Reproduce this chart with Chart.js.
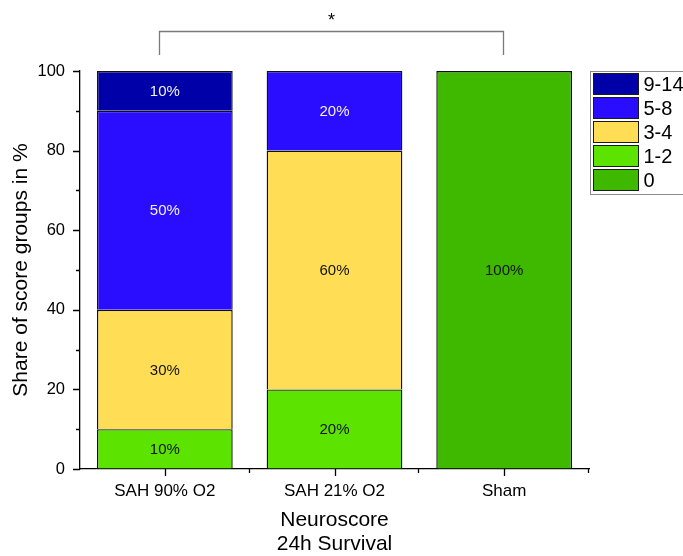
<!DOCTYPE html>
<html>
<head>
<meta charset="utf-8">
<title>Neuroscore 24h Survival</title>
<script src="https://cdn.jsdelivr.net/npm/chart.js@4.4.1/dist/chart.umd.min.js"></script>
<style>
  html, body { margin: 0; padding: 0; background: #fff; }
  #wrap { width: 683px; height: 556px; }
</style>
</head>
<body>
<div id="wrap"><canvas id="scoreChart" width="683" height="556"></canvas></div>
<script>
// Kategorien und Anteile der Score-Gruppen (in %), gestapelt von unten nach oben
const categories = ['SAH 90% O2', 'SAH 21% O2', 'Sham'];
const groupLabels = ['0', '1-2', '3-4', '5-8', '9-14'];
const share0 = [0, 0, 100];
const share1to2 = [10, 20, 0];
const share3to4 = [30, 60, 0];
const share5to8 = [50, 20, 0];
const share9to14 = [10, 0, 0];
const groupColors = ['#3fb900', '#5ce300', '#ffde55', '#2a0cff', '#0000a8'];
const labelColors = ['#111', '#111', '#111', '#f2f2f2', '#f2f2f2'];
const yTickValues = [0, 20, 40, 60, 80, 100];

const FONT = "'Liberation Sans', Arial, sans-serif";

const seriesList = [share0, share1to2, share3to4, share5to8, share9to14];
const datasets = seriesList.map((vals, i) => ({
    label: groupLabels[i],
    data: vals.map(v => v === 0 ? null : v),
    backgroundColor: groupColors[i],
    borderColor: '#111',
    borderWidth: 1.4,
    borderSkipped: 'bottom',   // Trennlinie kommt vom darunterliegenden Segment
    categoryPercentage: 0.8,
    barPercentage: 1.0
}));

// Achsenstriche (Haupt- und Nebenstriche) selbst zeichnen
const axisTicks = {
    id: 'axisTicks',
    afterDraw(chart) {
        const {ctx, chartArea, scales: {x, y}} = chart;
        ctx.save();
        ctx.strokeStyle = '#000';
        ctx.lineWidth = 1.3;
        ctx.beginPath();
        for (let v = 0; v <= 100; v += 10) {
            const py = Math.round(y.getPixelForValue(v)) + 0.5;
            const len = v % 20 === 0 ? 7 : 4;
            ctx.moveTo(chartArea.left - len, py);
            ctx.lineTo(chartArea.left, py);
        }
        categories.forEach((c, i) => {
            const px = Math.round(x.getPixelForValue(i)) + 0.5;
            ctx.moveTo(px, chartArea.bottom);
            ctx.lineTo(px, chartArea.bottom + 7);
            const edge = i < categories.length - 1
                ? (x.getPixelForValue(i) + x.getPixelForValue(i + 1)) / 2
                : chartArea.right;
            const ex = Math.round(edge) - 0.5;
            ctx.moveTo(ex, chartArea.bottom);
            ctx.lineTo(ex, chartArea.bottom + 4);
        });
        ctx.stroke();
        ctx.restore();
    }
};

// Prozentwerte mittig in die Segmente schreiben
const segmentLabels = {
    id: 'segmentLabels',
    afterDatasetsDraw(chart) {
        const {ctx} = chart;
        ctx.save();
        ctx.font = '15px ' + FONT;
        ctx.textAlign = 'center';
        ctx.textBaseline = 'middle';
        chart.data.datasets.forEach((ds, di) => {
            const meta = chart.getDatasetMeta(di);
            meta.data.forEach((bar, i) => {
                const v = ds.data[i];
                if (!v) return;
                ctx.fillStyle = labelColors[di];
                ctx.fillText(v + '%', bar.x, (bar.y + bar.base) / 2 + 1);
            });
        });
        ctx.restore();
    }
};

// Legende rechts neben der Achse (oberste Gruppe zuerst)
const sideLegend = {
    id: 'sideLegend',
    afterDraw(chart) {
        const {ctx, chartArea} = chart;
        const left = chartArea.right + 1.5;
        const top = chartArea.top + 0.5;
        ctx.save();
        ctx.strokeStyle = '#8a8a8a';
        ctx.lineWidth = 1;
        ctx.strokeRect(left, top, 120, 123);
        ctx.font = '20px ' + FONT;
        ctx.textBaseline = 'middle';
        ctx.textAlign = 'left';
        for (let k = 0; k < groupLabels.length; k++) {
            const gi = groupLabels.length - 1 - k;
            const ry = top + 2 + k * 24;
            ctx.fillStyle = groupColors[gi];
            ctx.fillRect(left + 3, ry, 45, 21);
            ctx.strokeStyle = '#1a1a1a';
            ctx.strokeRect(left + 3, ry, 45, 21);
            ctx.fillStyle = '#000';
            ctx.fillText(groupLabels[gi], left + 53, ry + 11.5);
        }
        ctx.restore();
    }
};

// Signifikanzklammer zwischen SAH 90% O2 und Sham
const sigBracket = {
    id: 'sigBracket',
    afterDraw(chart) {
        const {ctx, scales: {x}} = chart;
        const x1 = Math.round(x.getPixelForValue(0) - 6) + 0.5;
        const x2 = Math.round(x.getPixelForValue(2) - 1) + 0.5;
        ctx.save();
        ctx.strokeStyle = '#7a7a7a';
        ctx.lineWidth = 1.3;
        ctx.beginPath();
        ctx.moveTo(x1, 55);
        ctx.lineTo(x1, 31.5);
        ctx.lineTo(x2, 31.5);
        ctx.lineTo(x2, 55);
        ctx.stroke();
        ctx.fillStyle = '#000';
        ctx.font = '18px ' + FONT;
        ctx.textAlign = 'center';
        ctx.textBaseline = 'alphabetic';
        ctx.fillText('*', (x1 + x2) / 2, 26);
        ctx.restore();
    }
};

new Chart(document.getElementById('scoreChart'), {
    type: 'bar',
    data: { labels: categories, datasets: datasets },
    options: {
        responsive: false,
        animation: false,
        layout: { padding: { left: 0, top: 71, right: 94, bottom: 0 } },
        plugins: {
            legend: { display: false },
            tooltip: { enabled: false }
        },
        scales: {
            x: {
                stacked: true,
                grid: { display: true, drawOnChartArea: false, drawTicks: true, tickLength: 7, color: 'transparent' },
                border: { display: true, color: '#000', width: 1.3 },
                ticks: { color: '#000', font: { family: FONT, size: 17 }, padding: 5, maxRotation: 0 },
                title: {
                    display: true,
                    text: ['Neuroscore', '24h Survival'],
                    color: '#000',
                    font: { family: FONT, size: 21, lineHeight: 1.15 },
                    padding: { top: 0, bottom: 0 }
                },
                afterFit(scale) { scale.height = 87; }
            },
            y: {
                stacked: true,
                min: 0,
                max: 100,
                afterBuildTicks(scale) { scale.ticks = yTickValues.map(v => ({ value: v })); },
                grid: { display: true, drawOnChartArea: false, drawTicks: true, tickLength: 7, color: 'transparent' },
                border: { display: true, color: '#000', width: 1.3 },
                ticks: { color: '#000', font: { family: FONT, size: 16.5 }, padding: 8 },
                title: {
                    display: true,
                    text: 'Share of score groups in %',
                    color: '#000',
                    font: { family: FONT, size: 21 },
                    padding: { top: 9, bottom: 0 }
                },
                afterFit(scale) { scale.width = 80; }
            }
        }
    },
    plugins: [axisTicks, segmentLabels, sideLegend, sigBracket]
});
</script>
</body>
</html>
